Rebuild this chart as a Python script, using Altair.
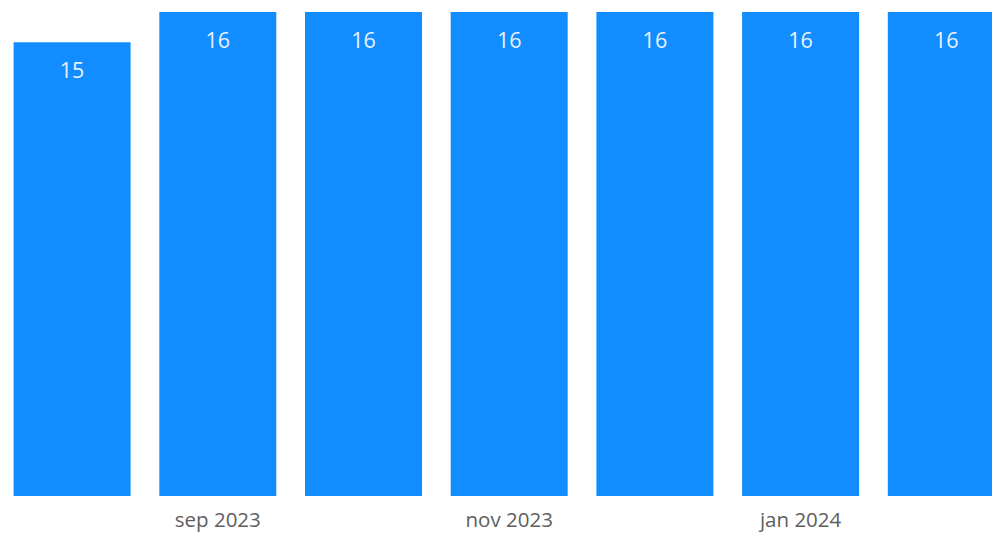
import altair as alt
import pandas as pd

months = ["aug 2023", "sep 2023", "okt 2023", "nov 2023", "dec 2023", "jan 2024", "feb 2024"]
values = [15, 16, 16, 16, 16, 16, 16]
shown_labels = ["sep 2023", "nov 2023", "jan 2024"]

df = pd.DataFrame({"month": months, "value": values})

FONT = "Open Sans"

base = alt.Chart(df).encode(
    x=alt.X(
        "month:N",
        sort=months,
        title=None,
        scale=alt.Scale(range=[5.6, 996.8], paddingInner=0.197, paddingOuter=0),
        axis=alt.Axis(
            values=shown_labels,
            labelAngle=0,
            domain=False,
            ticks=False,
            grid=False,
            labelFont=FONT,
            labelFontSize=20.5,
            labelColor="#605E5C",
            labelBaseline="middle",
            labelPadding=24,
        ),
    ),
    y=alt.Y(
        "value:Q",
        title=None,
        scale=alt.Scale(domain=[0, 16], nice=False, zero=True),
        axis=None,
    ),
)

bars = base.mark_bar(color="#118DFF", clip=True)
labels = base.mark_text(
    baseline="middle",
    align="center",
    dy=30,
    font=FONT,
    fontSize=21.5,
    color="#E8F2FF",
    clip=True,
).encode(text="value:Q")

chart = (
    (bars + labels)
    .properties(
        width=984,
        height=484,
        padding={"left": 0, "top": 4, "right": 0, "bottom": 36},
        autosize=alt.AutoSizeParams(type="none"),
    )
    .configure_view(stroke=None)
)

chart.save("out.html", embed_options={"renderer": "svg", "actions": False})
